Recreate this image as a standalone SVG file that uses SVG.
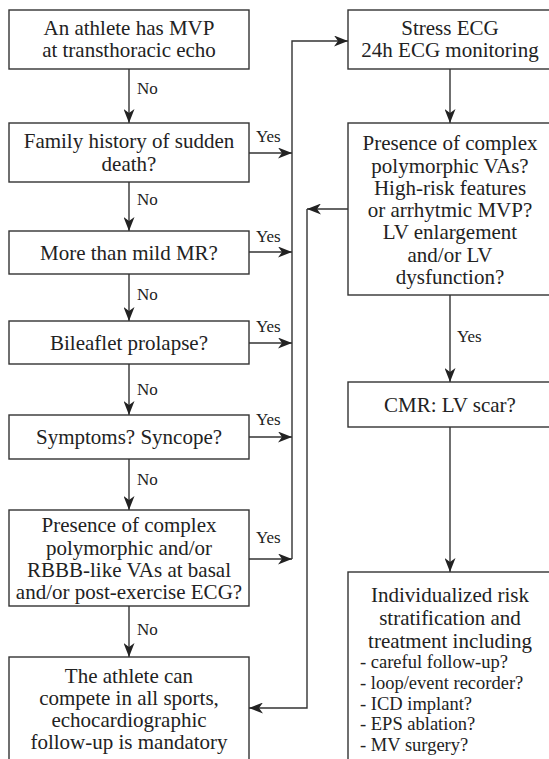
<svg xmlns="http://www.w3.org/2000/svg" width="549" height="759" viewBox="0 0 549 759">
<style>
.box{fill:#fff;stroke:#333;stroke-width:1.4}
text{font-family:"Liberation Serif","Times New Roman",serif;fill:#222}
.t{font-size:21px;text-anchor:middle}
.l{font-size:18.5px}
.lab{font-size:17px}
.c{fill:none;stroke:#333;stroke-width:1.4}
</style>
<defs>
<marker id="ah" markerUnits="userSpaceOnUse" markerWidth="14" markerHeight="11" refX="14" refY="5.5" orient="auto">
<path d="M0,0 L14,5.5 L0,11 L4,5.5 z" fill="#222"/>
</marker>
</defs>
<rect width="549" height="759" fill="#fff"/>
<g id="connectors">
<line class="c" x1="129" y1="69" x2="129" y2="123" marker-end="url(#ah)"/>
<line class="c" x1="129" y1="182" x2="129" y2="231" marker-end="url(#ah)"/>
<line class="c" x1="129" y1="274" x2="129" y2="321" marker-end="url(#ah)"/>
<line class="c" x1="129" y1="364" x2="129" y2="415" marker-end="url(#ah)"/>
<line class="c" x1="129" y1="459" x2="129" y2="510" marker-end="url(#ah)"/>
<line class="c" x1="129" y1="606" x2="129" y2="657" marker-end="url(#ah)"/>
<line class="c" x1="249" y1="153" x2="292" y2="153" marker-end="url(#ah)"/>
<line class="c" x1="249" y1="252" x2="292" y2="252" marker-end="url(#ah)"/>
<line class="c" x1="249" y1="343" x2="292" y2="343" marker-end="url(#ah)"/>
<line class="c" x1="249" y1="437" x2="292" y2="437" marker-end="url(#ah)"/>
<line class="c" x1="249" y1="559" x2="292" y2="559" marker-end="url(#ah)"/>
<path class="c" d="M292,559 L292,41 L348,41" marker-end="url(#ah)"/>
<line class="c" x1="348" y1="209" x2="307" y2="209" marker-end="url(#ah)"/>
<path class="c" d="M307,209 L307,708 L249,708" marker-end="url(#ah)"/>
<line class="c" x1="450" y1="69" x2="450" y2="123" marker-end="url(#ah)"/>
<line class="c" x1="450" y1="295" x2="450" y2="382" marker-end="url(#ah)"/>
<line class="c" x1="450" y1="427" x2="450" y2="572" marker-end="url(#ah)"/>
<text class="lab" x="137" y="94">No</text>
<text class="lab" x="137" y="205">No</text>
<text class="lab" x="137" y="300">No</text>
<text class="lab" x="137" y="395">No</text>
<text class="lab" x="137" y="485">No</text>
<text class="lab" x="137" y="635">No</text>
<text class="lab" x="256" y="142">Yes</text>
<text class="lab" x="256" y="242">Yes</text>
<text class="lab" x="256" y="332">Yes</text>
<text class="lab" x="256" y="425">Yes</text>
<text class="lab" x="256" y="543">Yes</text>
<text class="lab" x="457" y="342">Yes</text>
</g>
<g id="n1"><rect class="box" x="9" y="10" width="240" height="59"/>
<text class="t" x="129" y="35">An athlete has MVP</text><text class="t" x="129" y="57">at transthoracic echo</text></g>
<g id="n2"><rect class="box" x="9" y="123" width="240" height="59"/>
<text class="t" x="129" y="148">Family history of sudden</text><text class="t" x="129" y="171">death?</text></g>
<g id="n3"><rect class="box" x="9" y="231" width="240" height="43"/>
<text class="t" x="129" y="260">More than mild MR?</text></g>
<g id="n4"><rect class="box" x="9" y="321" width="240" height="43"/>
<text class="t" x="129" y="350">Bileaflet prolapse?</text></g>
<g id="n5"><rect class="box" x="9" y="415" width="240" height="44"/>
<text class="t" x="129" y="444">Symptoms? Syncope?</text></g>
<g id="n6"><rect class="box" x="9" y="510" width="240" height="96"/>
<text class="t" x="129" y="532">Presence of complex</text><text class="t" x="129" y="555">polymorphic and/or</text><text class="t" x="129" y="577">RBBB-like VAs at basal</text><text class="t" x="129" y="599">and/or post-exercise ECG?</text></g>
<g id="n7"><rect class="box" x="9" y="657" width="240" height="120"/>
<text class="t" x="129" y="683">The athlete can</text><text class="t" x="129" y="705">compete in all sports,</text><text class="t" x="129" y="727">echocardiographic</text><text class="t" x="129" y="749">follow-up is mandatory</text></g>
<g id="r1"><rect class="box" x="348" y="10" width="205" height="59"/>
<text class="t" x="450" y="35">Stress ECG</text><text class="t" x="450" y="57">24h ECG monitoring</text></g>
<g id="r2"><rect class="box" x="348" y="123" width="205" height="172"/>
<text class="t" x="450" y="150">Presence of complex</text><text class="t" x="450" y="173">polymorphic VAs?</text><text class="t" x="450" y="195">High-risk features</text><text class="t" x="450" y="217">or arrhytmic MVP?</text><text class="t" x="450" y="239">LV enlargement</text><text class="t" x="450" y="262">and/or LV</text><text class="t" x="450" y="284">dysfunction?</text></g>
<g id="r3"><rect class="box" x="348" y="382" width="205" height="45"/>
<text class="t" x="450" y="412">CMR: LV scar?</text></g>
<g id="r4"><rect class="box" x="348" y="572" width="205" height="200"/>
<text class="t" x="450" y="602">Individualized risk</text><text class="t" x="450" y="625">stratification and</text><text class="t" x="450" y="648">treatment including</text>
<text class="l" x="360" y="668">- careful follow-up?</text><text class="l" x="360" y="689">- loop/event recorder?</text><text class="l" x="360" y="710">- ICD implant?</text><text class="l" x="360" y="730">- EPS ablation?</text><text class="l" x="360" y="751">- MV surgery?</text></g>
</svg>
